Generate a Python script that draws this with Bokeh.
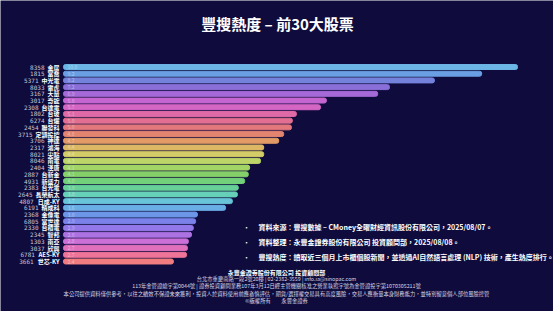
from bokeh.plotting import figure
from bokeh.models import ColumnDataSource, Range1d, Label
from bokeh.core.properties import value
from bokeh.embed import file_html
from bokeh.resources import INLINE

codes = ["8358", "1815", "5371", "8033", "3167", "3017", "2308", "1802", "6274", "2454",
         "3715", "3706", "2317", "8021", "8046", "2404", "2887", "4931", "2383", "2645",
         "4807", "6191", "2368", "6805", "2330", "2345", "1303", "3037", "6781", "3661"]
names = ["金居", "富喬", "中光電", "雷虎", "大量", "奇鋐", "台達電", "台玻", "台燿", "聯發科",
         "定穎投控", "神達", "鴻海", "尖點", "南電", "漢唐", "台新金", "新盛力", "台光電", "長榮航太",
         "日成-KY", "精成科", "金像電", "富世達", "台積電", "智邦", "南亞", "欣興", "AES-KY", "世芯-KY"]
heat = [10.0, 9.21, 8.17, 7.18, 6.92, 5.79, 5.66, 5.13, 5.04, 5.02,
        4.85, 4.74, 4.41, 4.41, 4.34, 4.10, 4.07, 3.99, 3.85, 3.83,
        3.72, 3.57, 2.95, 2.91, 2.86, 2.82, 2.75, 2.73, 2.71, 2.42]
colors = ["#6cb6e6", "#6a9fe4", "#7482dc", "#8a6fd8", "#a56ad8", "#c565d0", "#d466c4", "#e06aa8",
          "#e26e92", "#e2777c", "#e28470", "#e29a66", "#dcb864", "#d4cc66", "#bcd468", "#a2d466",
          "#86d06a", "#72d07a", "#66d098", "#66d0b8", "#68c4d8", "#6aaee6", "#6c96e8", "#7a82ea",
          "#9278e8", "#ac72e2", "#cc70d8", "#e070bc", "#ee7498", "#f07c80"]

title = "豐搜熱度 – 前30大股票"
notes = ["資料來源：豐搜數據 – CMoney全曜財經資訊股份有限公司，2025/08/07。",
         "資料整理：永豐金證券股份有限公司 投資顧問部，2025/08/08。",
         "豐搜熱度：讀取近三個月上市櫃個股新聞，並透過AI自然語言處理 (NLP) 技術，產生熱度排行。"]
footer = ["永豐金證券股份有限公司 投資顧問部",
          "台北市重慶南路一段2號20樓 | 02-2382-3559 | info.ia@sinopac.com",
          "113年金管證總字第0044號 | 證券投資顧問業務107年3月12日經主管機關核准之營業執照字號為金管證投字第1070305211號",
          "本公司提供資料僅供參考，以往之績效不保證未來獲利，投資人於資料使用前應審慎評估，期貨/選擇權交易具有高度風險，交易人應衡量本身財務能力，並特別留意個人部位風險控管",
          "©版權所有　　永豐金證券"]

BG = "#0f0c3d"
FONT = "Noto Sans CJK TC"
W, H = 553, 311
PX_PER_UNIT = 45.4
X0_PX = 63
ROW_PX = 6.707
ROW0_PX = 66.5


def text_width(s, size):
    w = 0
    for ch in s:
        w += size * (1.0 if ord(ch) > 0x2e80 else 0.6)
    return w


idx = list(range(len(codes)))
name_size = 6.0
src = ColumnDataSource(dict(
    y=idx, v=heat, color=colors, code=codes, name=names,
    vlab=[f"{h:.1f}" for h in heat],
    code_off=[-4 - text_width(n, name_size) - 3 for n in names],
))

p = figure(width=W, height=H, output_backend="svg", toolbar_location=None,
           x_range=Range1d(-X0_PX / PX_PER_UNIT, (W - X0_PX) / PX_PER_UNIT),
           y_range=Range1d(-ROW0_PX / ROW_PX + H / ROW_PX, -ROW0_PX / ROW_PX),
           x_axis_type=None, y_axis_type=None, min_border=0,
           background_fill_color=BG, border_fill_color=BG, outline_line_color=None)
p.grid.visible = False

p.hbar(y="y", left=0, right="v", height=0.74, color="color", source=src,
       border_radius=2)

p.text(x=0, y="y", text="vlab", source=src, x_offset=4, text_font=value(FONT),
       text_font_size="5px", text_color="white", text_alpha=0.45, text_baseline="middle")
p.text(x=0, y="y", text="name", source=src, x_offset=-4, text_font=value(FONT),
       text_font_size=f"{name_size}px", text_font_style="bold", text_color="white",
       text_align="right", text_baseline="middle")
p.text(x=0, y="y", text="code", source=src, x_offset="code_off", text_font=value("DejaVu Sans Mono"),
       text_font_size="6px", text_color="#c8c8d8", text_align="right", text_baseline="middle")

p.add_layout(Label(x=277, y=H - 23, x_units="screen", y_units="screen", text=title,
                   text_font=FONT, text_font_size="15px", text_font_style="bold",
                   text_color="white", text_align="center", text_baseline="middle"))

for i, t in enumerate(notes):
    yy = H - (226 + 15 * i)
    p.add_layout(Label(x=246, y=yy, x_units="screen", y_units="screen", text="•",
                       text_font=FONT, text_font_size="7px", text_color="white",
                       text_align="center", text_baseline="middle"))
    p.add_layout(Label(x=258, y=yy, x_units="screen", y_units="screen", text=t,
                       text_font=FONT, text_font_size="7px", text_font_style="bold",
                       text_color="white", text_align="left", text_baseline="middle"))

fy = [271.5, 278.5, 285.5, 293, 300]
for i, t in enumerate(footer):
    p.add_layout(Label(x=276, y=H - fy[i], x_units="screen", y_units="screen", text=t,
                       text_font=FONT, text_font_size="6px" if i == 0 else "5.3px",
                       text_font_style="bold" if i == 0 else "normal",
                       text_color="white" if i == 0 else "#d8d8e8",
                       text_align="center", text_baseline="middle"))

open("out.html", "w").write(file_html(p, INLINE))
